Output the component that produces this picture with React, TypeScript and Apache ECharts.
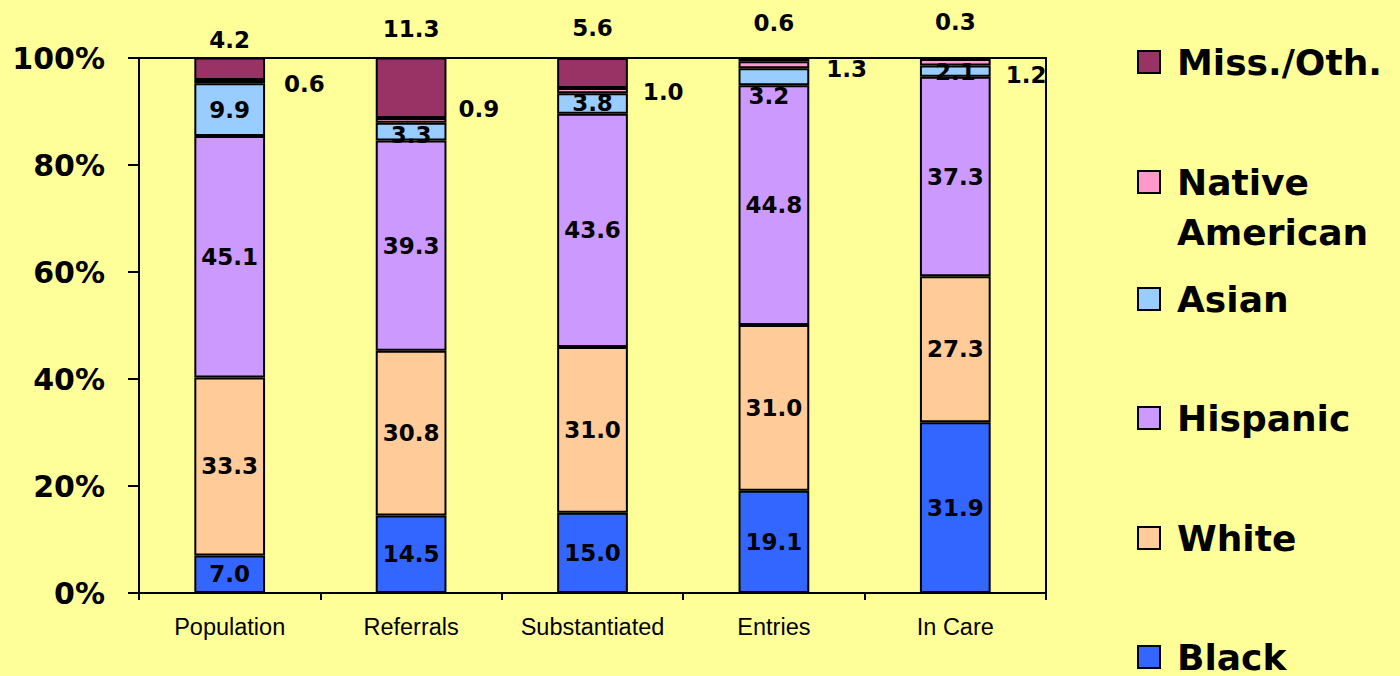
import React, { useEffect, useRef } from "react";
import * as echarts from "echarts";

const categories = ["Population", "Referrals", "Substantiated", "Entries", "In Care"];
const seriesNames = ["Black", "White", "Hispanic", "Asian", "Native American", "Miss./Oth."];
const black = [7.0, 14.5, 15.0, 19.1, 31.9];
const white = [33.3, 30.8, 31.0, 31.0, 27.3];
const hispanic = [45.1, 39.3, 43.6, 44.8, 37.3];
const asian = [9.9, 3.3, 3.8, 3.2, 2.1];
const nativeAmerican = [0.6, 0.9, 1.0, 1.3, 1.2];
const missOther = [4.2, 11.3, 5.6, 0.6, 0.3];

const colors = ["#3366FF", "#FFCC99", "#CC99FF", "#99CCFF", "#FF99CC", "#993366"];

// label nudges (styling, not data)
const asianOffsets = [[0, 0], [0, 3], [0, 0], [-5, 19], [0, 1]];
const nativeOffsets = [[4, 2], [-3, -11], [0, 1], [2, 4], [0, 13]];
const missOffsets = [[0, -1], [0, -12], [0, -14], [0, -19], [0, -19]];

const LABEL_FONT = "DejaVu Sans";

export default function App() {
  const ref = useRef<HTMLDivElement>(null);
  useEffect(() => {
    if (!ref.current) return;
    const chart = echarts.init(ref.current, null, { renderer: "svg" });
    const values = [black, white, hispanic, asian, nativeAmerican, missOther];
    const baseLabel = {
      show: true,
      color: "#000",
      fontFamily: LABEL_FONT,
      fontWeight: "bold",
      fontSize: 23,
      formatter: (p: any) => Number(p.value).toFixed(1),
    };
    const series = seriesNames.map((name, si) => {
      let position: any = "inside";
      let offsets: number[][] | null = null;
      let distance = 5;
      if (si === 3) offsets = asianOffsets;
      if (si === 4) {
        position = "right";
        offsets = nativeOffsets;
        distance = 15;
      }
      if (si === 5) {
        position = "top";
        offsets = missOffsets;
        distance = 5;
      }
      return {
        name,
        type: "bar",
        stack: "total",
        barWidth: "39%",
        itemStyle: { color: colors[si], borderColor: "#000", borderWidth: 2 },
        label: { ...baseLabel, position, distance },
        data: values[si].map((v, i) =>
          offsets ? { value: v, label: { offset: offsets[i] } } : v
        ),
      };
    });

    const legendTop: Record<string, number> = {
      "Miss./Oth.": 40,
      "Native American": 107,
      Asian: 277,
      Hispanic: 396,
      White: 516,
      Black: 635,
    };
    const legends = seriesNames.map((name) => ({
      data: [name],
      left: 1137,
      top: legendTop[name],
      padding: 0,
      icon: "rect",
      itemWidth: 22,
      itemHeight: 22,
      itemStyle: { borderColor: "#000", borderWidth: 2 },
      selectedMode: false,
      formatter: name === "Native American" ? " \nNative\nAmerican" : name,
      textStyle: {
        color: "#000",
        fontFamily: LABEL_FONT,
        fontWeight: "bold",
        fontSize: 36,
        lineHeight: name === "Native American" ? 50 : 44,
        padding: [0, 0, 0, 12],
      },
    }));

    chart.setOption({
      animation: false,
      backgroundColor: "#FFFF99",
      grid: {
        left: 139,
        right: 354,
        top: 58,
        bottom: 83,
        show: true,
        borderColor: "#000",
        borderWidth: 2,
        backgroundColor: "transparent",
      },
      legend: legends,
      xAxis: {
        type: "category",
        data: categories,
        axisLine: { lineStyle: { color: "#000", width: 2 } },
        axisTick: { show: true, length: 7, lineStyle: { color: "#000", width: 2 } },
        axisLabel: {
          interval: 0,
          color: "#000",
          fontFamily: "Liberation Sans",
          fontSize: 23.5,
          margin: 22,
        },
      },
      yAxis: {
        type: "value",
        min: 0,
        max: 100,
        interval: 20,
        splitLine: { show: false },
        axisLine: { show: true, lineStyle: { color: "#000", width: 2 } },
        axisTick: { show: true, length: 11, lineStyle: { color: "#000", width: 2 } },
        axisLabel: {
          color: "#000",
          fontFamily: LABEL_FONT,
          fontWeight: "bold",
          fontSize: 30,
          margin: 34,
          formatter: "{value}%",
        },
      },
      series,
    });
    return () => chart.dispose();
  }, []);
  return (
    <div
      ref={ref}
      style={{ position: "fixed", left: 0, top: 0, width: 1400, height: 676 }}
    />
  );
}
